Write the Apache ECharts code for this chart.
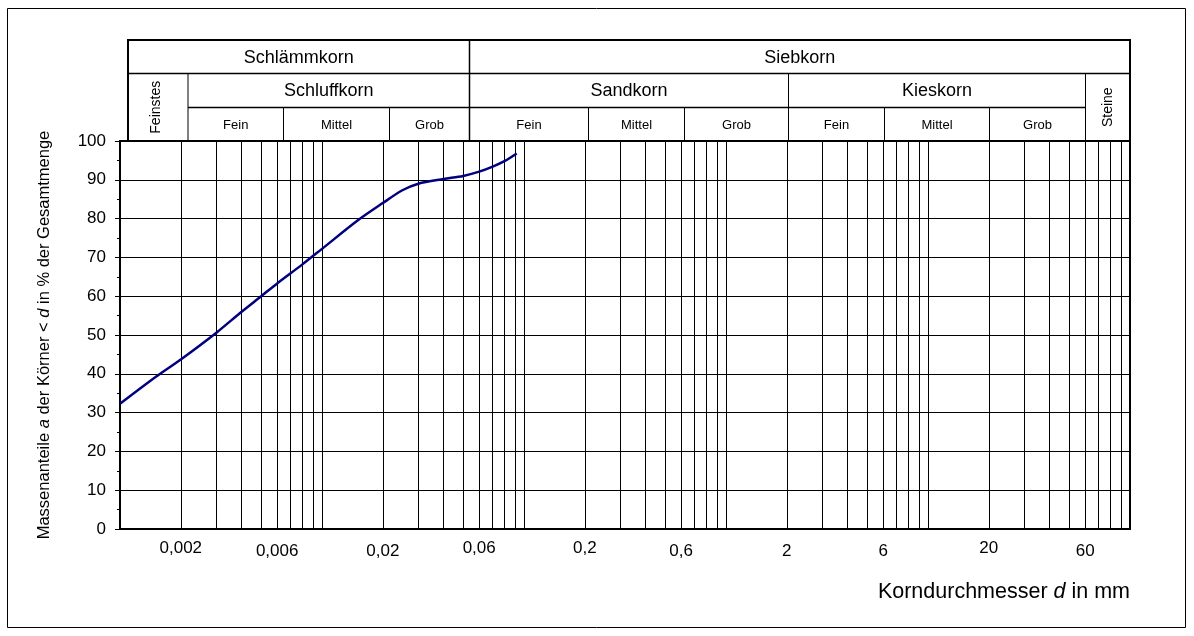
<!DOCTYPE html>
<html>
<head>
<meta charset="utf-8">
<script src="https://cdn.jsdelivr.net/npm/echarts@6/dist/echarts.min.js"></script>
<style>
html,body{margin:0;padding:0;background:#fff;}
#c{width:1194px;height:636px;}
</style>
</head>
<body>
<div id="c"></div>
<script>
// ---- data ----
const grainSizeMm = [0.001, 0.0015, 0.002, 0.003, 0.004, 0.005, 0.006, 0.008, 0.01, 0.015, 0.02, 0.025, 0.03, 0.04, 0.05, 0.06, 0.07, 0.08, 0.092];
const passingPercent = [32.3, 39.2, 43.7, 50.6, 56.0, 60.0, 63.3, 68.2, 72.2, 79.5, 84.0, 87.3, 89.0, 90.2, 91.0, 92.1, 93.4, 94.8, 96.8];
const xTickLabelValues = [0.002, 0.006, 0.02, 0.06, 0.2, 0.6, 2, 6, 20, 60];
const gridDecades = [0.001, 0.01, 0.1, 1, 10];
const gridMultipliers = [2, 3, 4, 5, 6, 7, 8, 9, 10];
const yTickValues = [0, 10, 20, 30, 40, 50, 60, 70, 80, 90, 100];
const headerTop = ['Schlämmkorn', 'Siebkorn'];
const headerMid = ['Feinstes', 'Schluffkorn', 'Sandkorn', 'Kieskorn', 'Steine'];
const headerSub = ['Fein', 'Mittel', 'Grob', 'Fein', 'Mittel', 'Grob', 'Fein', 'Mittel', 'Grob'];
const yAxisTitle = 'Massenanteile {i|a} der Körner < {i|d} in % der Gesamtmenge';
const xAxisTitle = 'Korndurchmesser {i|d} in mm';

// gridline values: 2..10 x each decade
const xGridValues = [];
gridDecades.forEach(d => gridMultipliers.forEach(m => xGridValues.push(parseFloat((d * m).toPrecision(6)))));

const FONT = '"Liberation Sans", Arial, Helvetica, sans-serif';
const chart = echarts.init(document.getElementById('c'));

// ---- header table layout (pixels) ----
const L = 128, R = 1130, Y0 = 40, Y1 = 73.5, Y2 = 107.5, Y3 = 141;
const B = {feinst: 188, sFM: 283.5, sMG: 389.5, sieb: 469.5, saFM: 588.5, saMG: 684.5, kies: 788.5, kFM: 884.5, kMG: 989.5, st: 1085.5};

function hline(x1, x2, y, w) {
  return {type: 'line', shape: {x1: x1, y1: y, x2: x2, y2: y}, style: {stroke: '#000', lineWidth: w || 1}, silent: true};
}
function vline(x, y1, y2, w) {
  return {type: 'line', shape: {x1: x, y1: y1, x2: x, y2: y2}, style: {stroke: '#000', lineWidth: w || 1}, silent: true};
}
function txt(t, x, y, size, rot) {
  return {
    type: 'text', x: x, y: y, rotation: rot || 0, silent: true,
    style: {text: t, fill: '#000', font: size + 'px ' + FONT, align: 'center', verticalAlign: 'middle', textAlign: 'center', textVerticalAlign: 'middle'}
  };
}

const subBounds = [B.feinst, B.sFM, B.sMG, B.sieb, B.saFM, B.saMG, B.kies, B.kFM, B.kMG, B.st];
const graphics = [
  {type: 'rect', shape: {x: 7.5, y: 8.5, width: 1178, height: 619}, style: {fill: 'none', stroke: '#000', lineWidth: 1}, silent: true},
  {type: 'rect', shape: {x: L, y: Y0, width: R - L, height: Y3 - Y0}, style: {fill: 'none', stroke: '#000', lineWidth: 2}, silent: true},
  hline(L, R, Y1, 1.5),
  hline(B.feinst, B.st, Y2, 1.5),
  vline(B.sieb, Y0, Y3, 1.5),
  vline(B.feinst, Y1, Y3),
  vline(B.kies, Y1, Y3),
  vline(B.st, Y1, Y3),
  vline(B.sFM, Y2, Y3), vline(B.sMG, Y2, Y3),
  vline(B.saFM, Y2, Y3), vline(B.saMG, Y2, Y3),
  vline(B.kFM, Y2, Y3), vline(B.kMG, Y2, Y3),
  txt(headerTop[0], (L + B.sieb) / 2, (Y0 + Y1) / 2 + 1, 18),
  txt(headerTop[1], (B.sieb + R) / 2, (Y0 + Y1) / 2 + 1, 18),
  txt(headerMid[0], (L + B.feinst) / 2 - 2, (Y1 + Y3) / 2, 14, Math.PI / 2),
  txt(headerMid[1], (B.feinst + B.sieb) / 2, (Y1 + Y2) / 2 + 1, 18),
  txt(headerMid[2], (B.sieb + B.kies) / 2, (Y1 + Y2) / 2 + 1, 18),
  txt(headerMid[3], (B.kies + B.st) / 2, (Y1 + Y2) / 2 + 1, 18),
  txt(headerMid[4], (B.st + R) / 2, (Y1 + Y3) / 2, 14, Math.PI / 2),
  {
    type: 'text', x: 1130, y: 592, silent: true,
    style: {
      text: xAxisTitle, fill: '#000', font: '21.5px ' + FONT, align: 'right', verticalAlign: 'middle', textAlign: 'right', textVerticalAlign: 'middle',
      rich: {i: {fontStyle: 'italic', fontSize: 21.5, fontFamily: FONT, fill: '#000'}}
    }
  }
];
headerSub.forEach((t, k) => {
  graphics.push(txt(t, (subBounds[k] + subBounds[k + 1]) / 2, (Y2 + Y3) / 2 + 1, 13));
});

const raised = new Set([0.002, 0.06, 0.2, 20]);

const option = {
  animation: false,
  backgroundColor: '#fff',
  grid: {left: 120, top: 141, width: 1010, height: 388, show: true, borderColor: '#000', borderWidth: 2, containLabel: false},
  xAxis: {
    type: 'log', logBase: 10, min: 0.001, max: 100,
    axisLine: {show: true, onZero: false, lineStyle: {color: '#000', width: 2}},
    axisTick: {show: false, customValues: xGridValues},
    minorTick: {show: false}, minorSplitLine: {show: false},
    splitLine: {show: true, lineStyle: {color: '#000', width: 1}},
    axisLabel: {
      customValues: xTickLabelValues,
      margin: 11,
      formatter: function (v) {
        const n = parseFloat(Number(v).toPrecision(6));
        const s = String(n).replace('.', ',');
        return raised.has(n) ? '{u|' + s + '}' : '{d|' + s + '}';
      },
      rich: {
        u: {fontSize: 17, fontFamily: FONT, color: '#000', lineHeight: 17},
        d: {fontSize: 17, fontFamily: FONT, color: '#000', lineHeight: 23}
      }
    }
  },
  yAxis: {
    type: 'value', min: 0, max: 100, interval: 10,
    name: yAxisTitle, nameLocation: 'middle', nameRotate: 90, nameGap: 67,
    nameTextStyle: {fontSize: 16.5, fontFamily: FONT, color: '#000', rich: {i: {fontStyle: 'italic', fontSize: 16.5, fontFamily: FONT, color: '#000'}}},
    axisLine: {show: true, lineStyle: {color: '#000', width: 2}},
    axisTick: {show: true, length: 5, lineStyle: {color: '#000', width: 1}},
    minorTick: {show: true, splitNumber: 2, length: 3, lineStyle: {color: '#000', width: 1}},
    splitLine: {show: true, lineStyle: {color: '#000', width: 1}},
    axisLabel: {fontSize: 17, fontFamily: FONT, color: '#000', margin: 14, customValues: yTickValues}
  },
  graphic: {elements: graphics},
  series: [{
    type: 'line',
    data: grainSizeMm.map((x, k) => [x, passingPercent[k]]),
    smooth: 0.3,
    showSymbol: false,
    symbol: 'none',
    lineStyle: {color: '#000080', width: 2.5},
    z: 5
  }]
};
chart.setOption(option);
</script>
</body>
</html>
